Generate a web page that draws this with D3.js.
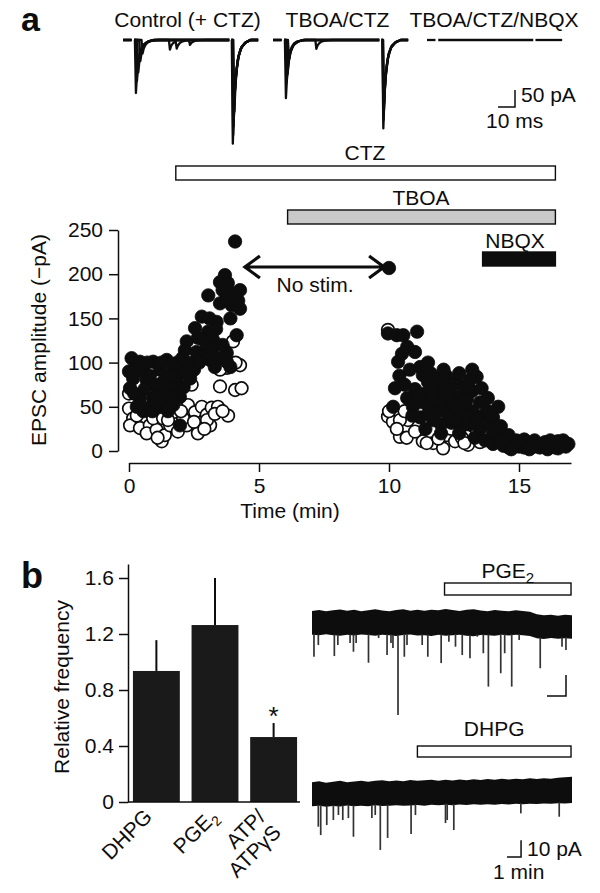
<!DOCTYPE html>
<html><head><meta charset="utf-8">
<script src="https://cdn.jsdelivr.net/npm/d3@7"></script>
<style>
body{margin:0;background:#fff;}
svg{display:block;font-family:"Liberation Sans",Arial,Helvetica,sans-serif;}
</style></head><body>
<svg id="fig" width="600" height="893"></svg>
<script>
// ---------------- DATA ----------------
// Panel a, example EPSC traces (peak time ms, amplitude pA)
const epscTitles = ["Control (+ CTZ)", "TBOA/CTZ", "TBOA/CTZ/NBQX"];
const epscTemplate = [[-0.6,0],[0,-1],[0.7,-0.62],[1.6,-0.38],[2.8,-0.2],[4.5,-0.09],[7,-0.03],[10,0]];
const traceSegments = [[0,5],[6.6,62.5],[63.8,79.5]];
const controlSweeps = [
  [[7.6,156],[64.6,305]],
  [[8.2,120],[64.8,280]],
  [[9.0,95],[65.0,255]],
  [[10.2,62],[65.2,230]],
  [[11.5,40],[27.6,28],[31.6,22],[39.4,14],[65.5,210]]
];
const tboaSweeps = [
  [[7.6,171],[64.9,260]],
  [[8.0,125],[65.0,235]],
  [[8.6,100],[25.5,26],[65.2,210]],
  [[9.4,55],[65.4,185]]
];
const nbqxSweeps = [[]];

// Panel a, time course
const timeTicks = [0,5,10,15];
const ampTicks = [0,50,100,150,200,250];
const drugNames = ["CTZ","TBOA","NBQX"];
const drugStart = [1.8,6.1,13.6];
const drugEnd = [16.4,16.4,16.4];
const noStim = [4.42,9.85];
const openPoints = [
  [0,48],[0.16,37],[0.04,29],[0.54,33],[0.42,26],[0.8,29],[0.68,20],[1.06,24],[1.26,11],[1.38,18],
  [0.93,37],[1.58,29],[1.88,22],[2.22,29],[2.27,52],[2.54,44],[2.65,20],[2.8,50],[2.99,41],[3.18,49],
  [3.42,50],[3.81,40],[2.41,75],[3.5,73],[4.08,69],[4.33,71],[4.27,97],[3.76,94],[3.5,92],[4.0,124],
  [2.08,37],[2.5,33],[3.12,29],[0.42,45],[1.7,44],[1.31,37],[0,65],[3.0,35],[3.3,42],[2.0,45],
  [4.1,100],[1.1,15],[0.3,40],[1.5,35],[2.9,25],[3.6,45],
  [9.96,137],[9.96,39],[10.15,33],[10.42,16],[10.68,15],[10.73,35],[10.42,35],[11.38,61],[11.3,11],
  [11.7,9],[12.08,3],[12.22,18],[12.54,11],[13.04,7],[13.3,27],[11.0,22],[11.45,9],[10.6,45],[11.1,45],
  [12.4,25],[12.8,15],[13.5,10],[11.7,40],[13.8,20],[10.0,45],[10.3,25],[11.9,14],[12.9,9]
];
const filledPoints = [
  [4.08,237],[3.69,199],[3.5,191],[4.27,182],[3.05,176],[3.76,175],[3.5,167],[3.95,165],[4.27,161],
  [2.8,152],[3.37,146],[2.54,139],[3.04,135],[4.14,131],[2.22,124],[2.85,126],[3.23,126],[2.15,114],
  [2.6,112],[3.76,111],[3.12,103],[3.5,105],[0.1,105],[0.42,101],[0.93,101],[1.45,103],[0.0,90],
  [0.54,90],[1.19,92],[1.7,94],[2.27,94],[0.16,82],[0.68,80],[1.31,78],[1.83,82],[0.04,71],[1.12,69],
  [1.7,71],[1.96,61],[0.42,60],[0.93,60],[1.45,60],[0.3,50],[0.74,49],[1.19,50],[1.7,52],[1.96,29],
  [3.76,101],[3.9,95],[2.4,100],[1.0,75],[1.3,65],[0.6,70],[2.0,88],[1.6,85],[3.2,115],[2.9,110],
  [3.6,120],[4.0,178],[3.8,190],[0.25,95],[0.8,85],[1.05,55],[0.55,45],[1.5,45],
  [0.2,65],[0.9,45],[1.6,62],[2.1,72],[2.35,82],[2.5,92],[2.7,100],[3.0,118],[3.3,95],[3.1,150],
  [3.35,138],[2.65,128],[3.9,150],[3.6,182],[4.2,170],[1.25,100],[0.7,100],[1.85,100],[2.05,105],
  [10.0,207],[9.96,133],[10.3,131],[10.55,131],[11.08,135],[11.0,112],[10.35,101],[10.8,92],[11.3,86],
  [10.23,71],[10.6,75],[11.0,70],[11.5,78],[11.8,72],[12.1,75],[12.4,70],[12.0,62],[12.4,58],[12.8,62],
  [13.2,68],[13.37,84],[13.56,71],[13.8,60],[14.2,50],[10.16,50],[10.92,50],[11.3,55],[11.6,50],
  [11.9,45],[12.2,48],[12.6,45],[12.9,50],[13.2,45],[13.6,40],[11.2,38],[11.7,35],[12.0,30],[12.4,32],
  [12.8,28],[13.1,30],[13.5,25],[13.9,30],[14.1,20],[14.3,15],[11.5,42],[12.3,38],[12.7,20],[13.3,15],
  [13.7,12],[14.0,8],[14.4,6],[14.6,4],[14.8,8],[15.0,5],[15.2,4],[15.4,6],[15.6,5],[15.8,4],[16.0,6],
  [16.2,5],[16.4,4],[16.6,6],[16.8,5],[14.5,12],[15.0,10],[15.5,9],[16.0,10],[16.5,11],[16.9,8],
  [13.0,40],[12.5,52],[11.9,58],[11.4,65],
  [10.4,85],[10.7,60],[11.2,95],[11.6,88],[11.9,82],[12.2,85],[12.6,78],[12.9,72],[13.1,80],[13.5,55],
  [12.2,65],[11.7,60],[11.1,62],[10.9,40],[12.6,35],[13.0,58],[13.4,35],[13.8,45],[14.0,38],[14.3,28],
  [14.6,18],[12.0,20],[11.4,25],[10.5,110],[10.7,118],[11.5,100],[12.1,92],[12.7,88],[13.2,92],
  [14.0,20],[14.9,12],[15.2,13],[15.6,12],[16.2,12],[16.7,12],[14.3,10],[14.7,2],[15.4,2],[16.1,2],[16.5,3]
];

// Panel b, bar chart
const freqCats = ["DHPG","PGE2","ATP/ATPγS"];
const freqLabelLines = [[["DHPG",""]],[["PGE","2"]],[["ATP/",""],["ATPγS",""]]];
const freqMean = [0.936,1.264,0.464];
const freqErr = [0.22,0.336,0.10];
const freqSig = ["","","*"];
const freqTicks = [0,0.4,0.8,1.2,1.6];

// Panel b, sEPSC recordings (min, pA)
const pgeUpper = [7.2,7.8,7.0,7.6,8.1,7.4,7.9,7.1,7.7,8.3,7.5,7.0,7.8,8.2,7.3,7.9,7.4,8.0,7.6,8.4,7.8,7.2,7.9,8.3,7.5,7.1,7.8,7.4,7.0,7.6,7.2,6.8,5.2,4.6,5.0,4.4,4.9,4.6];
const pgeLower = [-7.0,-7.4,-6.8,-7.3,-7.6,-7.1,-7.5,-6.9,-7.2,-7.7,-7.0,-7.4,-7.8,-7.2,-6.9,-7.5,-7.3,-7.8,-7.1,-7.6,-7.3,-7.0,-7.6,-7.9,-7.2,-7.4,-7.7,-7.1,-7.5,-7.0,-7.4,-7.8,-9.2,-9.6,-9.0,-9.4,-9.1,-9.5];
const pgeEvents = [[0.14,-20.2],[0.45,-13.2],[1.59,-19.8],[1.84,-13.2],[2.71,-12],[2.95,-17.2],[3.14,-12],
  [4.02,-23.8],[4.74,-9],[5.34,-19.2],[5.62,-12],[5.76,-15],[6.12,-55.1],[6.57,-20.2],[6.76,-13.2],
  [7.84,-13.2],[8.24,-20.2],[9.19,-24],[9.74,-11.2],[10.21,-14.2],[10.69,-19.2],[11.24,-21.1],
  [11.76,-8.2],[12.19,-18.1],[12.55,-38.1],[13.43,-30.1],[13.71,-18.1],[14.21,-38.1],[14.74,-10.2],
  [16.24,-27.1],[17.79,-14.2],[18.07,-16.2]];
const pgeBar = [9.43,18.43];
const dhpgUpper = [7.0,7.6,6.8,7.3,7.9,7.1,7.5,8.0,7.4,7.9,8.3,7.6,8.1,7.7,8.4,7.9,8.2,8.6,8.0,8.5,8.1,8.7,8.3,8.8,8.4,9.0,8.6,9.1,8.7,9.2,8.9,9.4,9.0,9.5,9.2,9.7,10.0,10.4];
const dhpgLower = [-7.4,-7.0,-7.6,-7.2,-7.5,-6.9,-7.3,-7.1,-7.4,-6.8,-7.2,-7.0,-6.7,-7.1,-6.9,-6.6,-7.0,-6.5,-6.8,-6.4,-6.7,-6.3,-6.6,-6.2,-6.5,-6.1,-6.4,-6.0,-6.3,-5.9,-6.2,-5.8,-6.0,-5.7,-5.9,-5.5,-5.7,-5.4];
const dhpgEvents = [[0.45,-19.6],[0.62,-24.6],[1.05,-18.6],[1.52,-15.6],[1.88,-12.6],[2.19,-15.6],[2.59,-14.4],
  [2.95,-25.6],[4.26,-14.4],[4.5,-12.6],[4.86,-33.5],[5.38,-26.3],[7.05,-24],[7.36,-12.6],[9.5,-17.4],
  [9.62,-15.6],[10.09,-21.6],[14.86,-11.6],[17.59,-13.6]];
const dhpgBar = [7.5,18.43];
const envTimes = d3.range(0, 18.51, 0.5);

// ---------------- DRAWING ----------------
const FONT = "Liberation Sans, Arial, Helvetica, sans-serif";
const FS = 21;
const INK = "#0d0d0d";
const svg = d3.select("#fig");

function txt(g, x, y, s, size, anchor) {
  return g.append("text").attr("x", x).attr("y", y).attr("font-size", size)
    .attr("text-anchor", anchor || "middle").attr("fill", INK).text(s);
}

// panel letters
txt(svg, 21, 31, "a", 34, "start").attr("font-weight", "bold");
txt(svg, 21, 588, "b", 36, "start").attr("font-weight", "bold");

// ---- Panel a: example traces
const trX = d3.scaleLinear([0, 80], [0, 136]);
const trY = d3.scaleLinear([-350, 0], [40 + 119, 40]);
function tmplAt(r) {
  const T = epscTemplate;
  if (r <= T[0][0] || r >= T[T.length - 1][0]) return 0;
  for (let i = 1; i < T.length; i++) {
    if (r <= T[i][0]) {
      const f = (r - T[i - 1][0]) / (T[i][0] - T[i - 1][0]);
      return T[i - 1][1] + f * (T[i][1] - T[i - 1][1]);
    }
  }
  return 0;
}
const traceGroups = [
  {x0: 123, sweeps: controlSweeps, cx: 187.5},
  {x0: 273, sweeps: tboaSweeps, cx: 337.5},
  {x0: 427, sweeps: nbqxSweeps, cx: 494}
];
traceGroups.forEach((grp, gi) => {
  txt(svg, grp.cx, 27, epscTitles[gi], FS);
  const g = svg.append("g").attr("transform", `translate(${grp.x0},0)`);
  const line = d3.line().x(d => trX(d[0])).y(d => trY(d[1]));
  grp.sweeps.forEach(peaks => {
    traceSegments.forEach(([s, e]) => {
      let ts = [s, e];
      peaks.forEach(([tp]) => epscTemplate.forEach(([k]) => {
        const t = tp + k; if (t > s && t < e) ts.push(t);
      }));
      ts.sort((a, b) => a - b);
      const pts = ts.map(t => [t, d3.sum(peaks, ([tp, a]) => a * tmplAt(t - tp))]);
      g.append("path").attr("d", line(pts)).attr("fill", "none")
        .attr("stroke", INK).attr("stroke-width", 2.3).attr("stroke-linejoin", "round");
    });
  });
});
// scale bar (50 pA, 10 ms)
svg.append("path").attr("d", `M${498},${107}H${498 + trX(10)}V${107 - (trY(-50) - trY(0))}`)
  .attr("fill", "none").attr("stroke", INK).attr("stroke-width", 1.5);
txt(svg, 521, 102, "50 pA", FS, "start");
txt(svg, 486, 128, "10 ms", FS, "start");

// ---- Panel a: time course
const x = d3.scaleLinear([0, 17], [129, 571]);
const y = d3.scaleLinear([0, 250], [451, 230]);

// drug bars
const drugBarY = [166, 210, 252];
const drugFill = ["#fff", "#c9c9c9", INK];
drugNames.forEach((n, i) => {
  svg.append("rect").attr("x", x(drugStart[i])).attr("y", drugBarY[i])
    .attr("width", x(drugEnd[i]) - x(drugStart[i])).attr("height", 14)
    .attr("fill", drugFill[i]).attr("stroke", INK).attr("stroke-width", 1.4);
});
txt(svg, 365, 160, drugNames[0], FS);
txt(svg, 421, 205, drugNames[1], FS);
txt(svg, 515, 248, drugNames[2], FS);

// no stim arrow
const ay = 267;
svg.append("path").attr("d",
  `M${x(noStim[0])},${ay}H${x(noStim[1])}` +
  `M${x(noStim[0]) + 16},${ay - 11}L${x(noStim[0]) + 1},${ay}L${x(noStim[0]) + 16},${ay + 11}` +
  `M${x(noStim[1]) - 16},${ay - 11}L${x(noStim[1]) - 1},${ay}L${x(noStim[1]) - 16},${ay + 11}`)
  .attr("fill", "none").attr("stroke", INK).attr("stroke-width", 3.2);
txt(svg, 315, 292, "No stim.", FS);

// axes
const yAx = svg.append("g").attr("transform", "translate(118,0)")
  .call(d3.axisLeft(y).tickValues(ampTicks).tickSize(9).tickPadding(6).tickSizeOuter(0));
const xAx = svg.append("g").attr("transform", "translate(0,463)")
  .call(d3.axisBottom(x).tickValues(timeTicks).tickSize(9).tickPadding(6).tickSizeOuter(0));
[yAx, xAx].forEach(a => {
  a.attr("font-size", FS).attr("font-family", FONT);
  a.selectAll("path,line").attr("stroke", INK).attr("stroke-width", 1.5);
  a.selectAll("text").attr("fill", INK);
});
txt(svg, 0, 0, "EPSC amplitude (−pA)", FS).attr("transform", "translate(46,340) rotate(-90)");
txt(svg, 290, 518, "Time (min)", FS);

// points
svg.append("g").selectAll("circle").data(openPoints).join("circle")
  .attr("cx", d => x(d[0])).attr("cy", d => y(d[1])).attr("r", 6.3)
  .attr("fill", "#fff").attr("stroke", INK).attr("stroke-width", 1.7);
svg.append("g").selectAll("circle").data(filledPoints).join("circle")
  .attr("cx", d => x(d[0])).attr("cy", d => y(d[1])).attr("r", 6.7)
  .attr("fill", INK).attr("stroke", INK).attr("stroke-width", 0.8);

// ---- Panel b: bar chart
const xb = d3.scaleBand(freqCats, [130, 300]).paddingInner(0.2).paddingOuter(0.05);
const yb = d3.scaleLinear([0, 1.7], [802, 564]);
const bars = svg.append("g");
freqCats.forEach((c, i) => {
  const cx = xb(c) + xb.bandwidth() / 2;
  bars.append("line").attr("x1", cx).attr("x2", cx).attr("y1", yb(freqMean[i]))
    .attr("y2", yb(freqMean[i] + freqErr[i])).attr("stroke", INK).attr("stroke-width", 2);
  bars.append("rect").attr("x", xb(c)).attr("y", yb(freqMean[i]))
    .attr("width", xb.bandwidth()).attr("height", yb(0) - yb(freqMean[i])).attr("fill", "#1a1a1a");
  if (freqSig[i]) txt(bars, cx, yb(freqMean[i] + freqErr[i]) + 2, freqSig[i], 26);
});
const ybAx = svg.append("g").attr("transform", "translate(128,0)")
  .call(d3.axisLeft(yb).tickValues(freqTicks).tickFormat(d => d === 0 ? "0" : d3.format(".1f")(d))
    .tickSize(9).tickPadding(5).tickSizeOuter(0));
ybAx.attr("font-size", FS).attr("font-family", FONT);
ybAx.selectAll("path,line").attr("stroke", INK).attr("stroke-width", 1.5);
ybAx.selectAll("text").attr("fill", INK);
svg.append("line").attr("x1", 128).attr("x2", 300).attr("y1", yb(0)).attr("y2", yb(0))
  .attr("stroke", INK).attr("stroke-width", 1.5);
txt(svg, 0, 0, "Relative frequency", FS).attr("transform", "translate(69,687) rotate(-90)");
const labDx = [-3, 4, -7];
freqCats.forEach((c, i) => {
  const cx = xb(c) + xb.bandwidth() / 2 + labDx[i];
  const g = svg.append("g").attr("transform", `translate(${cx},818) rotate(-45)`);
  freqLabelLines[i].forEach(([main, sub], li) => {
    const t = g.append("text").attr("x", 0).attr("y", li * 22).attr("text-anchor", "end")
      .attr("font-size", FS).attr("fill", INK).text(main);
    if (sub) t.append("tspan").attr("font-size", 14).attr("dy", 5).text(sub);
  });
});

// ---- Panel b: recordings
const xt = d3.scaleLinear([0, 18.5], [312, 572]);
const pAscale = 1.67;
function drawRecording(y0, upper, lower, events, bar, barY, barH, label, sub, labelY) {
  const yv = v => y0 - v * pAscale;
  const area = d3.area().x((d, i) => xt(envTimes[i])).y0((d, i) => yv(lower[i])).y1(d => yv(d));
  svg.append("path").attr("d", area(upper)).attr("fill", INK);
  events.forEach(([t, v]) => {
    const lo = d3.scaleLinear(envTimes, lower)(t);
    svg.append("line").attr("x1", xt(t)).attr("x2", xt(t)).attr("y1", yv(lo) - 1).attr("y2", yv(v))
      .attr("stroke", "#333").attr("stroke-width", 1.7);
  });
  svg.append("rect").attr("x", xt(bar[0])).attr("y", barY).attr("width", xt(bar[1]) - xt(bar[0]))
    .attr("height", barH).attr("fill", "#fff").attr("stroke", INK).attr("stroke-width", 1.4);
  const t = txt(svg, (xt(bar[0]) + xt(bar[1])) / 2, labelY, label, FS);
  if (sub) t.append("tspan").attr("font-size", 15).attr("dy", 5).text(sub);
}
drawRecording(623, pgeUpper, pgeLower, pgeEvents, pgeBar, 583, 12, "PGE", "2", 578);
drawRecording(794, dhpgUpper, dhpgLower, dhpgEvents, dhpgBar, 746, 11, "DHPG", "", 736);

// scale bars
svg.append("path").attr("d", "M547,696H566V675").attr("fill", "none").attr("stroke", INK).attr("stroke-width", 1.5);
svg.append("path").attr("d", `M${507},857H${507 + (xt(1) - xt(0))}V${857 - 10 * pAscale}`)
  .attr("fill", "none").attr("stroke", INK).attr("stroke-width", 1.5);
txt(svg, 527, 856, "10 pA", FS, "start");
txt(svg, 493, 879, "1 min", FS, "start");
</script>
</body></html>
